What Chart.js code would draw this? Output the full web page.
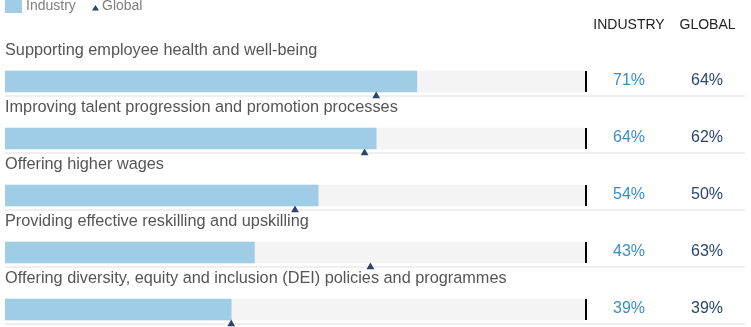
<!DOCTYPE html>
<html>
<head>
<meta charset="utf-8">
<script src="https://cdn.jsdelivr.net/npm/chart.js@4.4.0/dist/chart.umd.min.js"></script>
<style>
  html, body { margin: 0; padding: 0; background: #fff; }
  #wrap { position: relative; width: 751px; height: 327px; overflow: hidden; }
</style>
</head>
<body>
<div id="wrap"><canvas id="chart" width="751" height="327"></canvas></div>
<script>
// --- Data ---
const categories = [
  'Supporting employee health and well-being',
  'Improving talent progression and promotion processes',
  'Offering higher wages',
  'Providing effective reskilling and upskilling',
  'Offering diversity, equity and inclusion (DEI) policies and programmes'
];
const industry = [71, 64, 54, 43, 39];
const global = [64, 62, 50, 63, 39];
const columnHeads = ['INDUSTRY', 'GLOBAL'];

const FONT = '"Liberation Sans", Arial, Helvetica, sans-serif';
const BAR_BLUE = '#a0cde6';
const NAVY = '#2a4670';
const IND_TEXT = '#3a8dc9';
const ROW = 57;          // px per row
const FIRST = 81.5;      // px of first bar centre
const H = 327;
const MARK_OFF = 14.5 / ROW;

const rows = categories.map((_, i) => i);

// --- Custom drawing: labels, separators, end line, value columns, legend ---
const decor = {
  id: 'decor',
  beforeDatasetsDraw(chart) {
    const { ctx, scales: { y } } = chart;
    ctx.save();
    ctx.fillStyle = '#efefef';
    rows.forEach(i => {
      const cy = y.getPixelForValue(i);
      ctx.fillRect(5, Math.round(cy + 13.5), 740, 2);
    });
    ctx.restore();
  },
  afterDatasetsDraw(chart) {
    const { ctx, scales: { x, y } } = chart;
    ctx.save();
    const xEnd = x.getPixelForValue(100);
    rows.forEach(i => {
      const cy = y.getPixelForValue(i);
      // 100% end marker
      ctx.fillStyle = '#000';
      ctx.fillRect(Math.round(xEnd), cy - 10.5, 2, 21);
      // category label
      ctx.font = '16.3px ' + FONT;
      ctx.fillStyle = '#555';
      ctx.textAlign = 'left';
      ctx.textBaseline = 'alphabetic';
      ctx.fillText(categories[i], 5, cy - 27);
      // values
      ctx.font = '16px ' + FONT;
      ctx.textAlign = 'center';
      ctx.fillStyle = IND_TEXT;
      ctx.fillText(industry[i] + '%', 629, cy + 3.5);
      ctx.fillStyle = NAVY;
      ctx.fillText(global[i] + '%', 707, cy + 3.5);
    });
    // column heads
    ctx.font = '14px ' + FONT;
    ctx.fillStyle = '#222';
    ctx.textAlign = 'center';
    ctx.fillText(columnHeads[0], 629, 29);
    ctx.fillText(columnHeads[1], 707.5, 29);
    // legend
    ctx.fillStyle = BAR_BLUE;
    ctx.fillRect(5, -4, 17, 17);
    ctx.font = '14px ' + FONT;
    ctx.fillStyle = '#808080';
    ctx.textAlign = 'left';
    ctx.fillText('Industry', 26, 10);
    ctx.fillText('Global', 102, 10);
    ctx.fillStyle = NAVY;
    ctx.beginPath();
    ctx.moveTo(95.5, 5);
    ctx.lineTo(99, 10.5);
    ctx.lineTo(92, 10.5);
    ctx.closePath();
    ctx.fill();
    ctx.restore();
  }
};

const yMin = -FIRST / ROW;
const yMax = yMin + H / ROW;

new Chart(document.getElementById('chart'), {
  type: 'bar',
  data: {
    datasets: [
      {
        type: 'scatter',
        label: 'Global',
        data: rows.map(i => ({ x: global[i], y: i + MARK_OFF })),
        pointStyle: 'triangle',
        pointRadius: 4.5,
        backgroundColor: NAVY,
        borderColor: NAVY,
        borderWidth: 0,
        order: 0
      },
      {
        label: 'Industry',
        data: rows.map(i => ({ x: industry[i], y: i })),
        backgroundColor: BAR_BLUE,
        barThickness: 21,
        grouped: false,
        order: 1
      },
      {
        label: 'track',
        data: rows.map(i => ({ x: 100, y: i })),
        backgroundColor: '#f4f4f4',
        barThickness: 21,
        grouped: false,
        order: 2
      }
    ]
  },
  options: {
    indexAxis: 'y',
    responsive: false,
    animation: false,
    devicePixelRatio: 1,
    layout: { autoPadding: false, padding: { left: 5, right: 166, top: 0, bottom: 0 } },
    plugins: { legend: { display: false }, tooltip: { enabled: false } },
    scales: {
      x: { type: 'linear', min: 0, max: 100, offset: false, display: false },
      y: { type: 'linear', min: yMin, max: yMax, reverse: true, offset: false, display: false }
    }
  },
  plugins: [decor]
});
</script>
</body>
</html>
